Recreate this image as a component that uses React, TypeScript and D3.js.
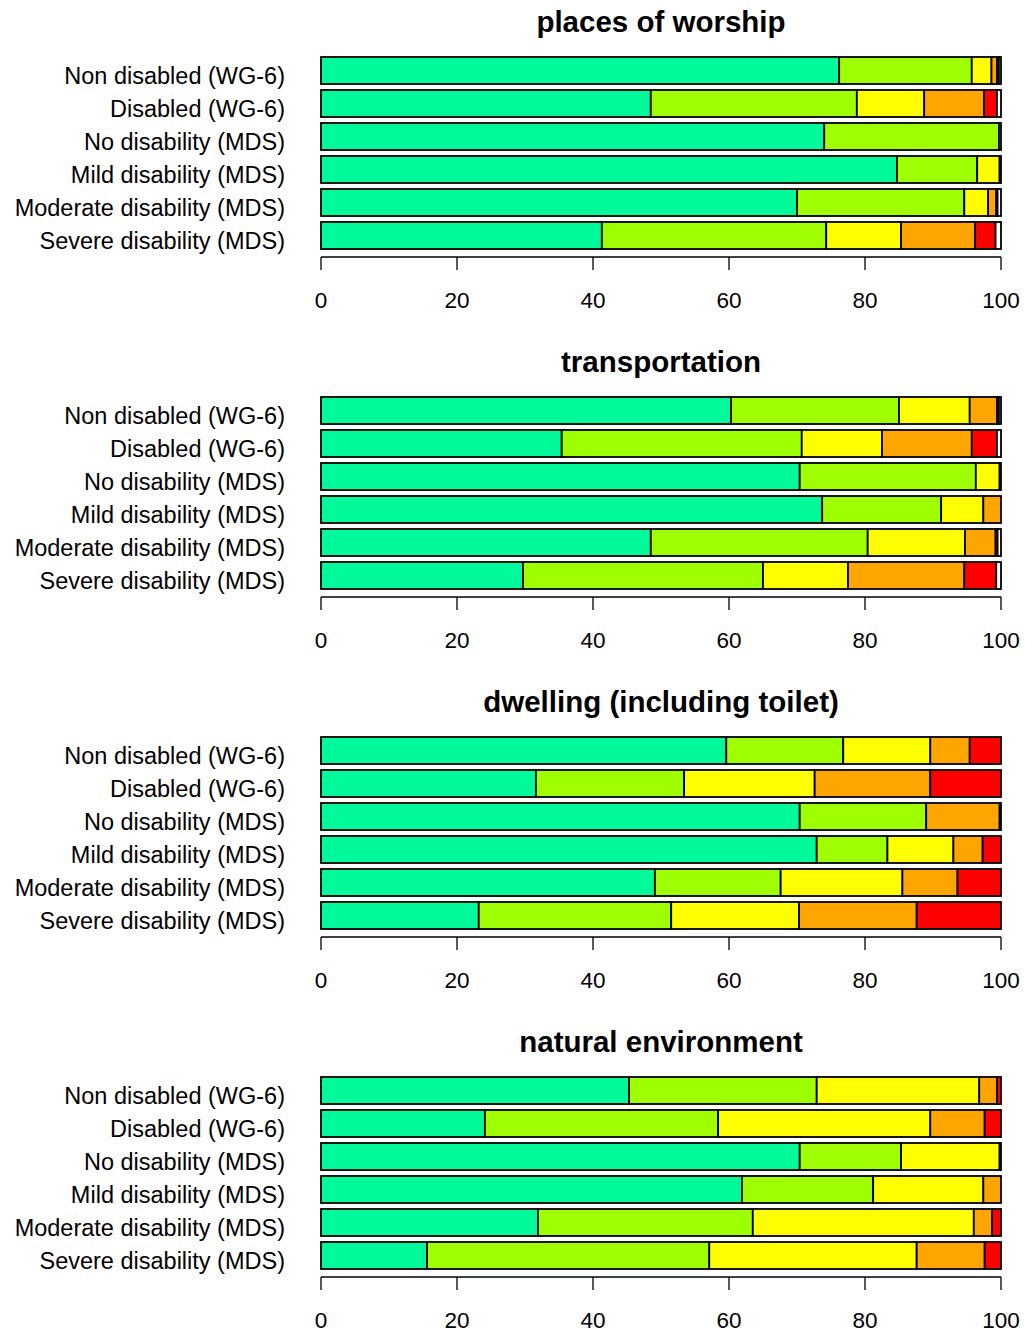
import React from "react";
import * as d3 from "d3";

const rowLabels = [
  "Non disabled (WG-6)",
  "Disabled (WG-6)",
  "No disability (MDS)",
  "Mild disability (MDS)",
  "Moderate disability (MDS)",
  "Severe disability (MDS)",
];

const panelTitles = [
  "places of worship",
  "transportation",
  "dwelling (including toilet)",
  "natural environment",
];

// each row: [level1, level2, level3, level4, level5, level6]
const worship = [
  [76.2, 19.5, 2.9, 0.8, 0.3, 0.3],
  [48.5, 30.3, 9.9, 8.8, 1.9, 0.6],
  [74.0, 25.7, 0.3, 0, 0, 0],
  [84.7, 11.8, 3.3, 0.2, 0, 0],
  [70.0, 24.6, 3.5, 1.2, 0.2, 0.5],
  [41.3, 33.0, 11.0, 10.9, 3.0, 0.8],
];
const transportation = [
  [60.3, 24.7, 10.4, 4.0, 0.3, 0.3],
  [35.4, 35.3, 11.8, 13.2, 3.7, 0.6],
  [70.4, 25.9, 3.5, 0.2, 0, 0],
  [73.7, 17.5, 6.2, 2.6, 0, 0],
  [48.5, 31.9, 14.3, 4.5, 0.3, 0.5],
  [29.7, 35.3, 12.5, 17.1, 4.7, 0.7],
];
const dwelling = [
  [59.6, 17.2, 12.8, 5.8, 4.6, 0],
  [31.6, 21.8, 19.2, 17.0, 10.4, 0],
  [70.4, 18.6, 0, 10.8, 0.2, 0],
  [72.9, 10.4, 9.7, 4.3, 2.7, 0],
  [49.1, 18.5, 17.9, 8.1, 6.4, 0],
  [23.2, 28.3, 18.8, 17.3, 12.4, 0],
];
const natural = [
  [45.3, 27.6, 23.9, 2.6, 0.6, 0],
  [24.1, 34.3, 31.2, 8.0, 2.4, 0],
  [70.4, 14.9, 14.5, 0.2, 0, 0],
  [61.9, 19.3, 16.2, 2.6, 0, 0],
  [31.9, 31.6, 32.5, 2.7, 1.3, 0],
  [15.6, 41.5, 30.5, 10.0, 2.4, 0],
];

const panelData = [worship, transportation, dwelling, natural];

const levelColors = ["#00FA9A", "#9FFF00", "#FFFF00", "#FFA500", "#FF0000", "#FFFFFF"];
const tickValues = [0, 20, 40, 60, 80, 100];

const W = 1025;
const H = 1333;
const panelStep = 340;
const FONT = "Liberation Sans, Arial, Helvetica, sans-serif";

function Panel({ title, data, offset }: { title: string; data: number[][]; offset: number }) {
  const x = d3.scaleLinear().domain([0, 100]).range([321, 1001]);
  const y = d3
    .scaleBand<number>()
    .domain(d3.range(rowLabels.length))
    .range([54, 252])
    .paddingInner(6 / 33)
    .paddingOuter(3 / 33);
  const stackKeys = d3.range(levelColors.length).map(String);
  const rows = data.map((r) => {
    const o: Record<string, number> = {};
    r.forEach((v, i) => (o[String(i)] = v));
    return o;
  });
  const series = d3.stack<Record<string, number>>().keys(stackKeys)(rows);
  const axisY = 257;
  return (
    <g transform={`translate(0,${offset})`}>
      <text
        x={(x(0) + x(100)) / 2}
        y={32}
        textAnchor="middle"
        fontFamily={FONT}
        fontWeight="bold"
        fontSize={29.5}
      >
        {title}
      </text>
      {rowLabels.map((lab, i) => (
        <text
          key={lab}
          x={285}
          y={(y(i) as number) + y.bandwidth() - 0.5}
          textAnchor="end"
          fontFamily={FONT}
          fontSize={23.5}
        >
          {lab}
        </text>
      ))}
      {series.map((s, k) => (
        <g key={k}>
          {s.map((d, i) =>
            d[1] - d[0] > 0 ? (
              <rect
                key={i}
                x={x(d[0])}
                y={y(i)}
                width={x(d[1]) - x(d[0])}
                height={y.bandwidth()}
                fill={levelColors[k]}
                stroke="#000"
                strokeWidth={1.8}
              />
            ) : null
          )}
        </g>
      ))}
      <line x1={x(0)} x2={x(100)} y1={axisY} y2={axisY} stroke="#000" strokeWidth={1.3} />
      {tickValues.map((t) => (
        <g key={t}>
          <line x1={x(t)} x2={x(t)} y1={axisY} y2={axisY + 13} stroke="#000" strokeWidth={1.3} />
          <text
            x={x(t)}
            y={axisY + 51}
            textAnchor="middle"
            fontFamily={FONT}
            fontSize={22.5}
          >
            {t}
          </text>
        </g>
      ))}
    </g>
  );
}

export default function App() {
  return (
    <svg
      width={W}
      height={H}
      style={{ position: "absolute", left: 0, top: 0, background: "#fff" }}
    >
      <rect width={W} height={H} fill="#fff" />
      {panelTitles.map((t, i) => (
        <Panel key={t} title={t} data={panelData[i]} offset={i * panelStep} />
      ))}
    </svg>
  );
}
